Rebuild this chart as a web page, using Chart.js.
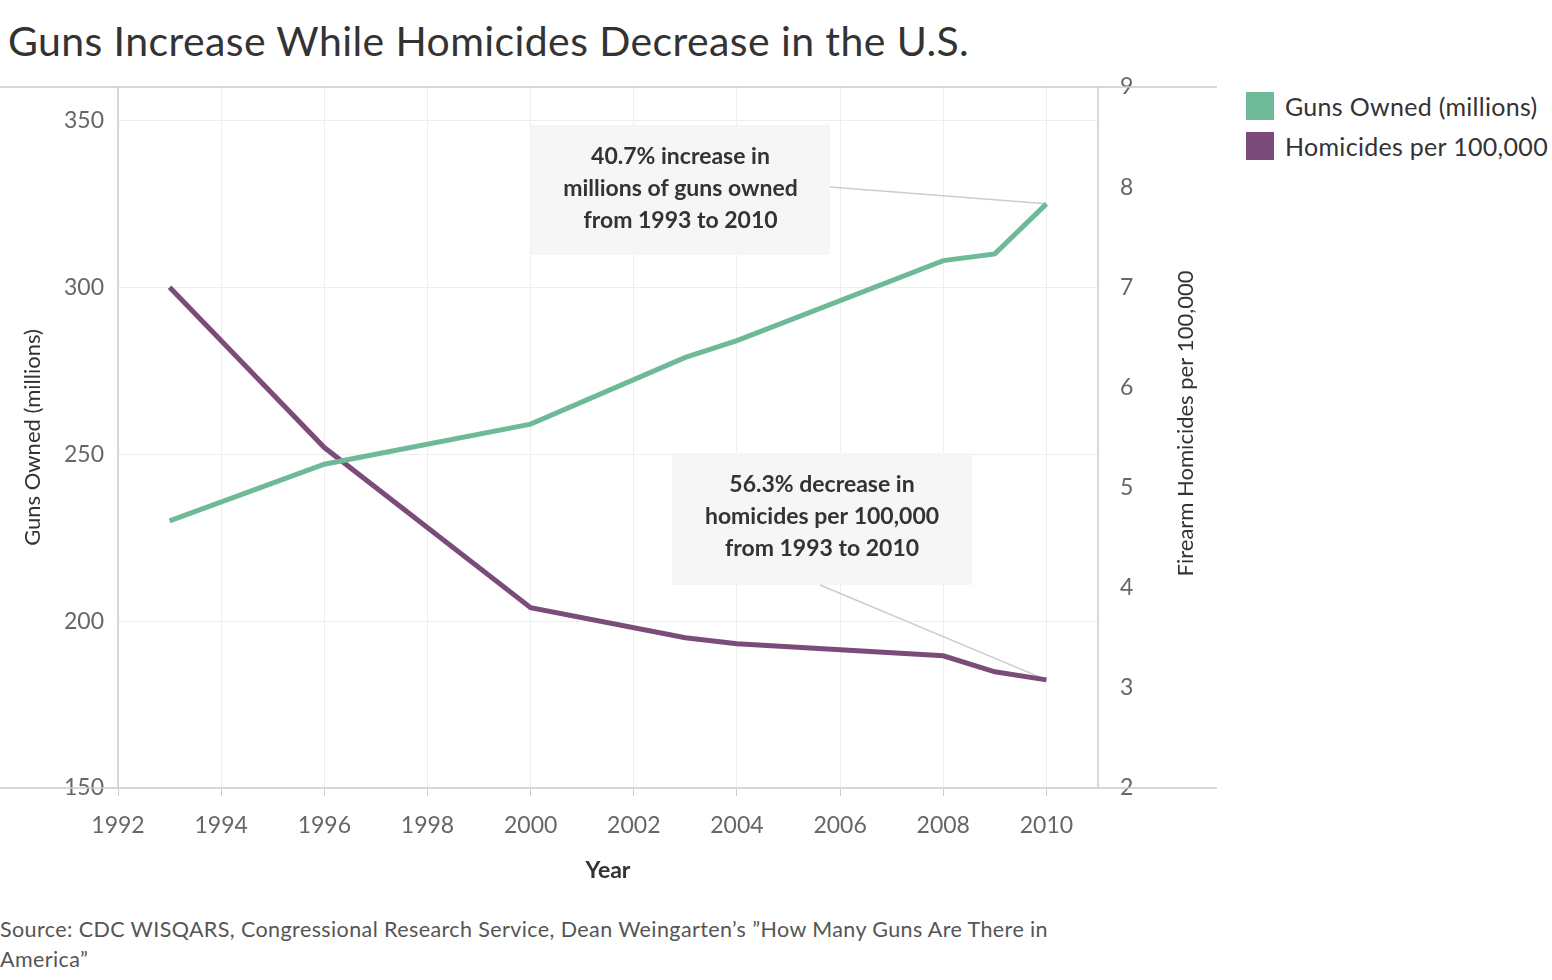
<!DOCTYPE html>
<html><head><meta charset="utf-8">
<script src="https://cdn.jsdelivr.net/npm/chart.js@4"></script>
<style>
body{margin:0;width:1552px;height:980px;background:#fff;font-family:Lato,"Noto Sans",sans-serif;overflow:hidden;position:relative}
#t{position:absolute;left:8px;top:16px;font-size:41px;color:#333;font-weight:400;letter-spacing:0.4px}
#lg{position:absolute;left:1246px;top:86px;font-size:25px;color:#333;letter-spacing:0.3px}
#lg div{height:40px;display:flex;align-items:center}
#lg span{display:inline-block;width:28px;height:28px;margin-right:11px}
#src{position:absolute;left:0;top:914px;width:1095px;font-size:21.5px;color:#555;line-height:30px;letter-spacing:0.4px}
#w{position:absolute;left:0;top:0;width:1552px;height:980px}
</style></head><body>
<div id="t">Guns Increase While Homicides Decrease in the U.S.</div>
<div id="lg"><div><span style="background:#6db998"></span>Guns Owned (millions)</div><div><span style="background:#7b4b7a"></span>Homicides per 100,000</div></div>
<div id="src">Source: CDC WISQARS, Congressional Research Service, Dean Weingarten’s ”How Many Guns Are There in America”</div>
<div id="w"><canvas id="c"></canvas></div>
<script>
const years=[1993,1996,2000,2003,2004,2008,2009,2010];
const guns=[230,247,259,279,284,308,310,325];
const homicides=[7.0,5.4,3.8,3.5,3.44,3.32,3.16,3.08];
const xTicks=[1992,1994,1996,1998,2000,2002,2004,2006,2008,2010];
const leftTicks=[150,200,250,300,350];
const rightTicks=[2,3,4,5,6,7,8,9];
const notes=[
 {lines:["40.7% increase in","millions of guns owned","from 1993 to 2010"],box:[531,125,830,255],from:[830,187],ds:0},
 {lines:["56.3% decrease in","homicides per 100,000","from 1993 to 2010"],box:[672,453,972,585],from:[820,585],ds:1}
];
const F='Lato, "Noto Sans"';
const deco={id:'deco',
 beforeDatasetsDraw(ch){const c=ch.ctx,a=ch.chartArea;c.save();c.strokeStyle='#ccc';c.lineWidth=1.5;
  c.beginPath();c.moveTo(0,a.top);c.lineTo(1217,a.top);c.moveTo(0,a.bottom);c.lineTo(1217,a.bottom);
  c.moveTo(a.left,a.top);c.lineTo(a.left,a.bottom);c.moveTo(a.right,a.top);c.lineTo(a.right,a.bottom);c.stroke();
  notes.forEach(n=>{const [x1,y1,x2,y2]=n.box;c.fillStyle='rgba(245,245,245,0.9)';c.fillRect(x1,y1,x2-x1,y2-y1);
   const i=years.length-1;const px=ch.scales.x.getPixelForValue(years[i]);
   const py=n.ds==0?ch.scales.y.getPixelForValue(guns[i]):ch.scales.y1.getPixelForValue(homicides[i]);
   c.strokeStyle='#ccc';c.lineWidth=1.5;c.beginPath();c.moveTo(n.from[0],n.from[1]);c.lineTo(px,py);c.stroke();
   c.fillStyle='#333';c.font='bold 23px '+F;c.textAlign='center';c.textBaseline='middle';
   n.lines.forEach((l,k)=>c.fillText(l,(x1+x2)/2,y1+32+k*32));});
  // right axis title rotated -90
  c.fillStyle='#333';c.font='22px '+F;c.textAlign='center';c.textBaseline='middle';
  c.translate(1186,(a.top+a.bottom)/2-14);c.rotate(-Math.PI/2);c.fillText('Firearm Homicides per 100,000',0,0);
  c.restore();}};
new Chart(document.getElementById('c'),{type:'line',
 data:{datasets:[
  {data:years.map((y,i)=>({x:y,y:guns[i]})),borderColor:'#6db998',borderWidth:5,pointRadius:0,yAxisID:'y',tension:0},
  {data:years.map((y,i)=>({x:y,y:homicides[i]})),borderColor:'#7b4b7a',borderWidth:5,pointRadius:0,yAxisID:'y1',tension:0}]},
 options:{responsive:true,maintainAspectRatio:false,animation:false,
  layout:{padding:{top:87,bottom:92,right:335,left:0}},
  plugins:{legend:{display:false},tooltip:{enabled:false}},
  scales:{
   x:{type:'linear',min:1992,max:2011,afterFit(s){s.height=100},afterBuildTicks(s){s.ticks=xTicks.map(v=>({value:v}))},
    ticks:{color:'#666',font:{size:23,family:F},padding:16,callback:v=>String(v),labelOffset:0},
    grid:{color:'#eee',drawTicks:true,tickLength:8,tickColor:'#ccc'},border:{display:false},
    title:{display:true,text:'Year',color:'#333',font:{size:23,weight:'bold',family:F},padding:{top:10}}},
   y:{position:'left',min:150,max:360,afterFit(s){s.width=118},afterBuildTicks(s){s.ticks=leftTicks.map(v=>({value:v}))},
    ticks:{color:'#666',font:{size:23,family:F},padding:14},grid:{color:'#eee',drawTicks:false},border:{display:false},
    title:{display:true,text:'Guns Owned (millions)',color:'#333',font:{size:22,family:F},padding:{top:20,bottom:4}}},
   y1:{position:'right',min:2,max:9,afterFit(s){s.width=119},afterBuildTicks(s){s.ticks=rightTicks.map(v=>({value:v}))},
    ticks:{color:'#666',font:{size:23,family:F},padding:14},grid:{display:false},border:{display:false},
    title:{display:false}}
  }},plugins:[deco]});
</script></body></html>
